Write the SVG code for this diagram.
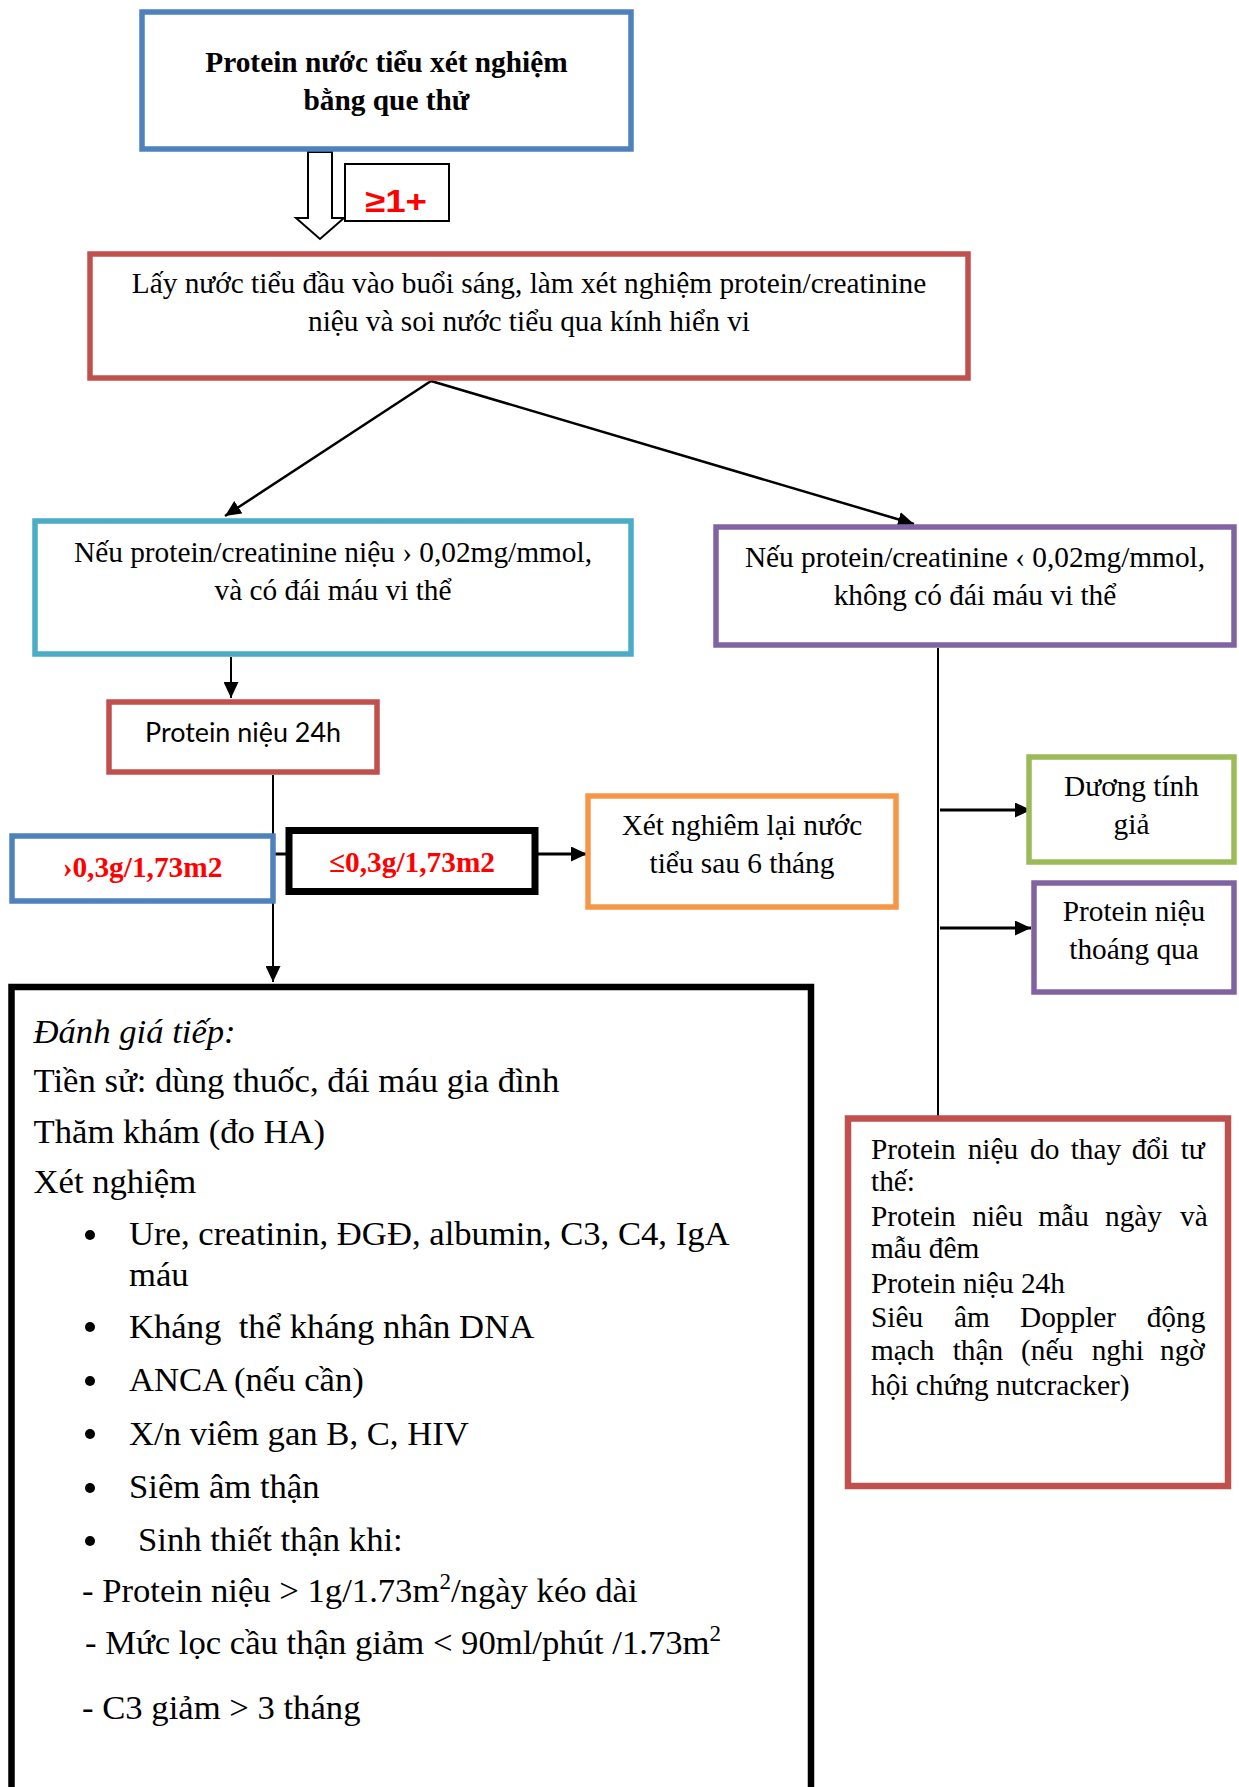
<svg xmlns="http://www.w3.org/2000/svg" width="1239" height="1787" viewBox="0 0 1239 1787">
<style>
  .box { fill: #ffffff; stroke-width: 5.5; }
  .t { font-family: "Liberation Serif", "Times New Roman", serif; font-size: 29.33px; fill: #000; }
  .c { text-anchor: middle; }
  .b { font-weight: bold; }
  .red { fill: #FF0000; }
  .big { font-family: "Liberation Serif", "Times New Roman", serif; font-size: 34.67px; fill: #000; }
  .sans { font-family: "Lato", "Liberation Sans", sans-serif; }
  .ln { stroke: #000; fill: none; }
</style>
<defs>
  <marker id="ah" markerUnits="userSpaceOnUse" markerWidth="17" markerHeight="15" refX="16" refY="7.5" orient="auto">
    <path d="M0,0 L16,7.5 L0,15 z" fill="#000"/>
  </marker>
</defs>
<rect x="0" y="0" width="1239" height="1787" fill="#ffffff"/>

<g id="connectors">
  <polygon points="308,152 332,152 332,218 344,218 320,239 296,218 308,218" fill="#fff" stroke="#000" stroke-width="2"/>
  <line class="ln" x1="431" y1="381" x2="225" y2="516" stroke-width="2.5" marker-end="url(#ah)"/>
  <line class="ln" x1="431" y1="381" x2="914" y2="524" stroke-width="2.5" marker-end="url(#ah)"/>
  <line class="ln" x1="231" y1="657" x2="231" y2="698" stroke-width="2" marker-end="url(#ah)"/>
  <line class="ln" x1="273" y1="775" x2="273" y2="982" stroke-width="2" marker-end="url(#ah)"/>
  <line class="ln" x1="275" y1="854" x2="288" y2="854" stroke-width="3"/>
  <line class="ln" x1="538" y1="854" x2="587" y2="854" stroke-width="3" marker-end="url(#ah)"/>
  <line class="ln" x1="938" y1="648" x2="938" y2="1116" stroke-width="2"/>
  <line class="ln" x1="940" y1="810" x2="1031" y2="810" stroke-width="3" marker-end="url(#ah)"/>
  <line class="ln" x1="940" y1="928" x2="1031" y2="928" stroke-width="3" marker-end="url(#ah)"/>
</g>

<g id="label-ge1">
  <rect x="345" y="164" width="104" height="57" fill="#fff" stroke="#000" stroke-width="2"/>
  <text x="396" y="212" class="c b red" font-family="Liberation Sans, Arial, sans-serif" font-size="32" textLength="62" lengthAdjust="spacingAndGlyphs">≥1+</text>
</g>

<g id="node-dipstick">
  <rect class="box" x="142" y="12" width="489" height="137" stroke="#4F81BD"/>
  <text class="t c b" x="386.5" y="72">Protein nước tiểu xét nghiệm</text>
  <text class="t c b" x="386.5" y="110">bằng que thử</text>
</g>

<g id="node-morning">
  <rect class="box" x="90" y="254" width="878" height="124" stroke="#C0504D"/>
  <text class="t c" x="529" y="293">Lấy nước tiểu đầu vào buổi sáng, làm xét nghiệm protein/creatinine</text>
  <text class="t c" x="529" y="331">niệu và soi nước tiểu qua kính hiển vi</text>
</g>

<g id="node-positive">
  <rect class="box" x="35" y="521" width="596" height="133" stroke="#4BACC6"/>
  <text class="t c" x="333" y="562">Nếu protein/creatinine niệu › 0,02mg/mmol,</text>
  <text class="t c" x="333" y="600">và có đái máu vi thể</text>
</g>

<g id="node-negative">
  <rect class="box" x="716" y="527" width="518" height="118" stroke="#8064A2"/>
  <text class="t c" x="975" y="567">Nếu protein/creatinine ‹ 0,02mg/mmol,</text>
  <text class="t c" x="975" y="605">không có đái máu vi thể</text>
</g>

<g id="node-24h">
  <rect class="box" x="109" y="702" width="268" height="70" stroke="#C0504D"/>
  <text class="sans c" x="243" y="742" font-size="27" textLength="196" lengthAdjust="spacingAndGlyphs">Protein niệu 24h</text>
</g>

<g id="node-gt03">
  <rect class="box" x="12" y="836" width="261" height="65" stroke="#4F81BD"/>
  <text class="t c b red" x="142.5" y="877">›0,3g/1,73m2</text>
</g>

<g id="node-le03">
  <rect x="289" y="830.5" width="246" height="61" fill="#fff" stroke="#000" stroke-width="7"/>
  <text class="t c b red" x="412" y="872">≤0,3g/1,73m2</text>
</g>

<g id="node-retest">
  <rect class="box" x="588" y="796" width="308" height="111" stroke="#F79646"/>
  <text class="t c" x="742" y="835">Xét nghiêm lại nước</text>
  <text class="t c" x="742" y="873">tiểu sau 6 tháng</text>
</g>

<g id="node-falsepos">
  <rect class="box" x="1029" y="757" width="205" height="105" stroke="#9BBB59"/>
  <text class="t c" x="1131.5" y="796">Dương tính</text>
  <text class="t c" x="1131.5" y="834">giả</text>
</g>

<g id="node-transient">
  <rect class="box" x="1034" y="883" width="200" height="109" stroke="#8064A2"/>
  <text class="t c" x="1134" y="921">Protein niệu</text>
  <text class="t c" x="1134" y="959">thoáng qua</text>
</g>

<g id="node-evaluate">
  <rect x="11.5" y="987" width="799.5" height="900" fill="#fff" stroke="#000" stroke-width="6.5"/>
  <text class="big" x="33.5" y="1043" font-style="italic">Đánh giá tiếp:</text>
  <text class="big" x="33.5" y="1092">Tiền sử: dùng thuốc, đái máu gia đình</text>
  <text class="big" x="33.5" y="1143">Thăm khám (đo HA)</text>
  <text class="big" x="33.5" y="1193">Xét nghiệm</text>
  <g fill="#000">
    <circle cx="90" cy="1235" r="5"/>
    <circle cx="90" cy="1327" r="5"/>
    <circle cx="90" cy="1381" r="5"/>
    <circle cx="90" cy="1434" r="5"/>
    <circle cx="90" cy="1488" r="5"/>
    <circle cx="90" cy="1541" r="5"/>
  </g>
  <text class="big" x="129" y="1245">Ure, creatinin, ĐGĐ, albumin, C3, C4, IgA</text>
  <text class="big" x="129" y="1286">máu</text>
  <text class="big" x="129" y="1338" xml:space="preserve">Kháng  thể kháng nhân DNA</text>
  <text class="big" x="129" y="1391">ANCA (nếu cần)</text>
  <text class="big" x="129" y="1445">X/n viêm gan B, C, HIV</text>
  <text class="big" x="129" y="1498">Siêm âm thận</text>
  <text class="big" x="138" y="1551">Sinh thiết thận khi:</text>
  <text class="big" x="82" y="1602">- Protein niệu &gt; 1g/1.73m<tspan font-size="23" dy="-13">2</tspan><tspan dy="13">/ngày kéo dài</tspan></text>
  <text class="big" x="85" y="1654">- Mức lọc cầu thận giảm &lt; 90ml/phút /1.73m<tspan font-size="23" dy="-13">2</tspan></text>
  <text class="big" x="82" y="1719">- C3 giảm &gt; 3 tháng</text>
</g>

<g id="node-orthostatic">
  <rect x="848" y="1118.5" width="380" height="367.5" fill="#fff" stroke="#C0504D" stroke-width="6.5"/>
  <text class="t" y="1159"><tspan x="871">Protein</tspan><tspan x="967.7">niệu</tspan><tspan x="1030">do</tspan><tspan x="1070.7">thay</tspan><tspan x="1131.7">đổi</tspan><tspan x="1180.7">tư</tspan></text>
  <text class="t" x="871" y="1191">thế:</text>
  <text class="t" y="1226"><tspan x="871">Protein</tspan><tspan x="972.3">niêu</tspan><tspan x="1038.3">mẫu</tspan><tspan x="1105">ngày</tspan><tspan x="1180">và</tspan></text>
  <text class="t" x="871" y="1258">mẫu đêm</text>
  <text class="t" x="871" y="1293">Protein niệu 24h</text>
  <text class="t" y="1327"><tspan x="871">Siêu</tspan><tspan x="954">âm</tspan><tspan x="1020">Doppler</tspan><tspan x="1146.7">động</tspan></text>
  <text class="t" y="1360"><tspan x="871">mạch</tspan><tspan x="952.7">thận</tspan><tspan x="1021">(nếu</tspan><tspan x="1091.7">nghi</tspan><tspan x="1160">ngờ</tspan></text>
  <text class="t" x="871" y="1395">hội chứng nutcracker)</text>
</g>
</svg>
